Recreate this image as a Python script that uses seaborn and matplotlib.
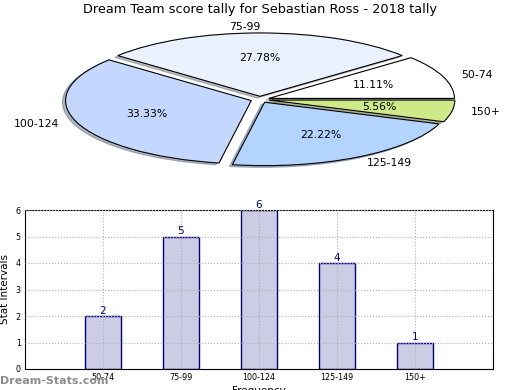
import seaborn as sns
import matplotlib.pyplot as plt
import pandas as pd

intervals = ["50-74", "75-99", "100-124", "125-149", "150+"]
counts = [2, 5, 6, 4, 1]
pie_colors = ["#ffffff", "#eaf2ff", "#c4d8ff", "#b3d4ff", "#ceea88"]

df = pd.DataFrame({"Interval": intervals, "Count": counts})

sns.set_theme(style="white")
plt.rcParams["font.family"] = ["DejaVu Sans"]
plt.rcParams["text.color"] = "black"
plt.rcParams["axes.labelcolor"] = "black"
plt.rcParams["xtick.color"] = "black"
plt.rcParams["ytick.color"] = "black"

fig = plt.figure(figsize=(5.2, 3.9), dpi=100)

# Pie (flattened ellipse)
ax_pie = fig.add_axes([26 / 520, 1 - 180 / 390, 468 / 520, 161 / 390])
ax_pie.pie(
    df["Count"],
    labels=df["Interval"],
    colors=pie_colors,
    explode=[0.05] * len(counts),
    autopct="%.2f%%",
    pctdistance=0.6,
    labeldistance=1.1,
    startangle=0,
    counterclock=True,
    shadow={"ox": -0.012, "oy": -0.02, "shade": 0.5},
    wedgeprops={"edgecolor": "black", "linewidth": 0.8},
    textprops={"fontsize": 7.8, "color": "black"},
)
ax_pie.set_aspect("auto")
ax_pie.set_xlim(-1.26, 1.26)
ax_pie.set_ylim(-1.27, 1.27)
fig.text(0.5, 1 - 10 / 390, "Dream Team score tally for Sebastian Ross - 2018 tally",
         ha="center", va="center", fontsize=9.3, color="black")

# Bars
ax = fig.add_axes([25 / 520, 1 - 369 / 390, 468 / 520, 159 / 390])
sns.barplot(data=df, x="Interval", y="Count", color=(0, 0, 0.5, 0.2),
            edgecolor="navy", linewidth=1, width=0.46, saturation=1, ax=ax, zorder=1)
for p in ax.patches:
    p.set_facecolor((0, 0, 0.5, 0.2))
ax.set_xlim(-1, 5)
ax.set_ylim(0, 6)
ax.set_yticks(range(0, 7))
ax.grid(True, linestyle=":", color="#b0b0b0", linewidth=0.8)
ax.set_axisbelow(False)
for i, v in enumerate(counts):
    ax.text(i, v, str(v), ha="center", va="bottom", color="navy", fontsize=7.5)
for s in ax.spines.values():
    s.set_color("black")
    s.set_linewidth(0.8)
ax.tick_params(axis="both", labelsize=5.8, length=2, direction="in", pad=3)
ax.set_ylabel("Stat Intervals", fontsize=7.5, labelpad=4)
ax.set_xlabel("Frequency", fontsize=7.5, labelpad=3)
fig.text(0.0, 1 - 381 / 390, "Dream-Stats.com", color="#8c8c8c", fontsize=8,
         ha="left", va="center", fontweight="bold")

fig.savefig("out.png", dpi=100)
